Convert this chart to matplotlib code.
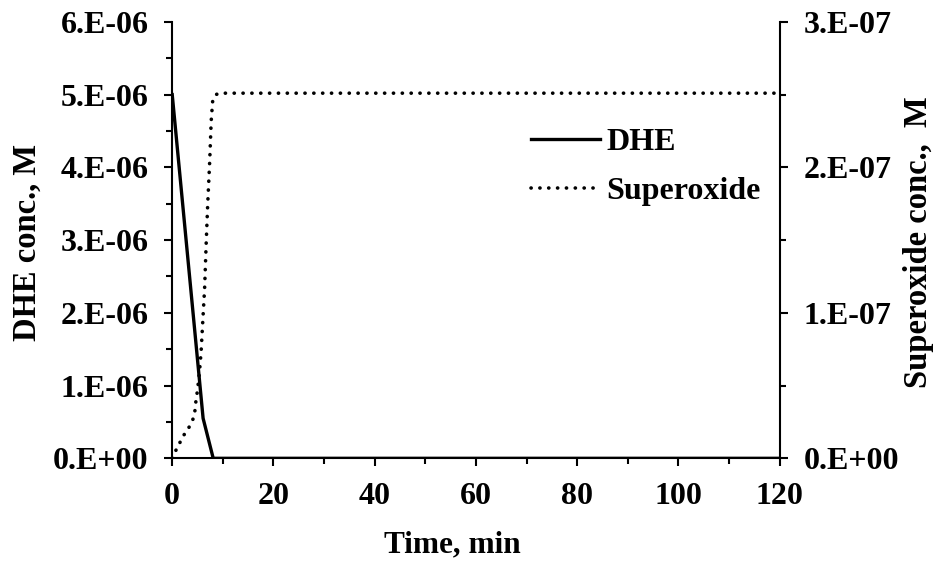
import matplotlib
matplotlib.use("Agg")
import matplotlib.pyplot as plt
from matplotlib.ticker import MultipleLocator, FuncFormatter

# data
dhe_t = [0, 6.1, 8.1, 20, 40, 60, 80, 100, 120]
dhe_conc = [5.0e-6, 0.55e-6, 0.0, 0.0, 0.0, 0.0, 0.0, 0.0, 0.0]

sox_t = [0, 0.5, 1.4, 2.1, 3.1, 3.9, 4.4, 4.7, 5.0, 5.4, 5.7, 6.0, 6.4, 6.7,
         7.0, 7.4, 7.7, 8.0, 8.6, 9.4, 20, 40, 60, 80, 100, 120]
sox_conc = [0.0, 0.04e-7, 0.10e-7, 0.15e-7, 0.20e-7, 0.25e-7, 0.30e-7, 0.40e-7,
            0.47e-7, 0.60e-7, 0.73e-7, 0.92e-7, 1.17e-7, 1.47e-7, 1.74e-7,
            2.04e-7, 2.32e-7, 2.46e-7, 2.50e-7, 2.51e-7, 2.51e-7, 2.51e-7,
            2.51e-7, 2.51e-7, 2.51e-7, 2.51e-7]

plt.rcParams["font.family"] = ["Liberation Serif", "DejaVu Serif"]
plt.rcParams["font.weight"] = "bold"
TICK_FS = 23


def sci_fmt(v, pos):
    if v == 0:
        return "0.E+00"
    mant, exp = f"{v:.0E}".split("E")
    return f"{mant}.E{exp}"


fig = plt.figure(figsize=(9.36, 5.61), dpi=100)
ax = fig.add_axes([0.184, 0.183, 0.649, 0.778])
ax2 = ax.twinx()

l1, = ax.plot(dhe_t, dhe_conc, color="black", lw=2.4)
l2, = ax2.plot(sox_t, sox_conc, color="black", lw=2.6,
               linestyle=(0, (0.05, 2.4)), dash_capstyle="round")

ax.set_xlim(0, 120)
ax.set_ylim(0, 6e-6)
ax2.set_ylim(0, 3e-7)

ax.xaxis.set_major_locator(MultipleLocator(20))
ax.xaxis.set_minor_locator(MultipleLocator(10))
ax.yaxis.set_major_locator(MultipleLocator(1e-6))
ax.yaxis.set_minor_locator(MultipleLocator(0.5e-6))
ax2.yaxis.set_major_locator(MultipleLocator(1e-7))
ax2.yaxis.set_minor_locator(MultipleLocator(0.5e-7))
ax.yaxis.set_major_formatter(FuncFormatter(sci_fmt))
ax2.yaxis.set_major_formatter(FuncFormatter(sci_fmt))

for a in (ax, ax2):
    a.spines["top"].set_visible(False)
    for sp in a.spines.values():
        sp.set_linewidth(1.5)
    a.tick_params(which="major", direction="out", length=6, width=1.5,
                  labelsize=TICK_FS)
    a.tick_params(which="minor", direction="out", length=4.5, width=1.5)
ax.spines["right"].set_visible(False)
ax2.spines["left"].set_visible(False)
ax2.spines["bottom"].set_visible(False)
ax.tick_params(axis="x", which="major", pad=11)
ax.tick_params(axis="y", which="major", pad=11)
ax2.tick_params(axis="y", which="major", pad=11)

# axis titles placed where the reference has them
fig.text(452 / 936, 1 - 552 / 561, "Time, min", fontsize=22.5,
         fontweight="bold", ha="center", va="baseline")
fig.text(27 / 936, 1 - 242 / 561, "DHE conc., M", fontsize=23.5,
         fontweight="bold", ha="center", va="center", rotation=90)
fig.text(918 / 936, 1 - 242 / 561, "Superoxide conc.,  M", fontsize=23.5,
         fontweight="bold", ha="center", va="center", rotation=90)

fig.legend([l1, l2], ["DHE", "Superoxide"], loc="upper left",
           bbox_to_anchor=(531 / 936, 1 - 128 / 561), frameon=False,
           borderpad=0, borderaxespad=0,
           handlelength=2.15, handletextpad=0.2, labelspacing=0.6,
           prop={"weight": "bold", "size": 23})

fig.savefig("out.png", dpi=100)
